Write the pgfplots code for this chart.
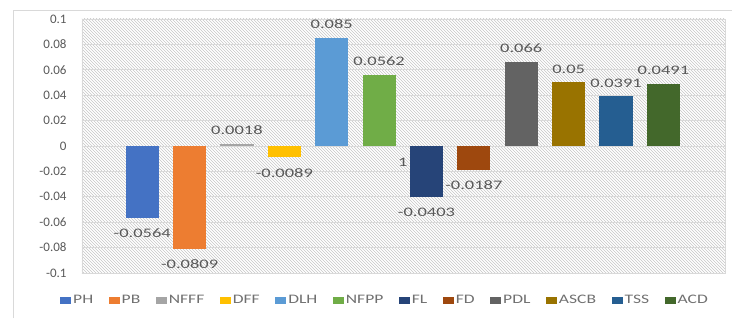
\documentclass[border=0pt]{standalone}
\usepackage{pgfplots}
\pgfplotsset{compat=1.18}
\usepackage{fontspec}
\setmainfont{Carlito}
\newfontfamily\lblfont{Carlito}[FakeStretch=1.42]
\newfontfamily\legfont{Carlito}[FakeStretch=1.35]
\usetikzlibrary{patterns}
\definecolor{cPH}{HTML}{4472C4}
\definecolor{cPB}{HTML}{ED7D31}
\definecolor{cNFFF}{HTML}{A5A5A5}
\definecolor{cDFF}{HTML}{FFC000}
\definecolor{cDLH}{HTML}{5B9BD5}
\definecolor{cNFPP}{HTML}{70AD47}
\definecolor{cFL}{HTML}{264478}
\definecolor{cFD}{HTML}{9E480E}
\definecolor{cPDL}{HTML}{636363}
\definecolor{cASCB}{HTML}{997300}
\definecolor{cTSS}{HTML}{255E91}
\definecolor{cACD}{HTML}{43682B}
\definecolor{labgray}{HTML}{595959}
\definecolor{leggray}{HTML}{707070}
\definecolor{linegray}{HTML}{D9D9D9}
\begin{document}
\begin{tikzpicture}
\begin{axis}[
  scale only axis, width=643pt, height=254pt,
  xmin=-1.27, xmax=12.3, ymin=-0.1, ymax=0.1,
  ytick={-0.1,-0.08,-0.06,-0.04,-0.02,0,0.02,0.04,0.06,0.08,0.1},
  yticklabels={-0.1,-0.08,-0.06,-0.04,-0.02,0,0.02,0.04,0.06,0.08,0.1},
  xtick=\empty,
  ymajorgrids, grid style={linegray, line width=0.8pt},
  axis line style={linegray},
  major tick length=0pt,
  yticklabel style={font=\fontsize{13}{13}\selectfont, text=labgray, xshift=-12pt},
  axis background/.style={pattern=north west lines, pattern color=gray!45},
  every axis plot/.append style={ybar, bar width=0.70, bar shift=0pt, draw=none},
  point meta=explicit symbolic,
  nodes near coords,
  nodes near coords style={font=\lblfont\fontsize{13}{13}\selectfont, text=labgray, inner ysep=0pt},
  pos/.style={nodes near coords style={anchor=south, yshift=9pt}},
  neg/.style={nodes near coords style={anchor=north, yshift=-11pt}},
  legend columns=12,
  legend style={draw=none, fill=none, at={(0,0)}, anchor=west, xshift=-22pt, yshift=-27pt,
    inner sep=0pt, font=\legfont\fontsize{13}{13}\selectfont, text=leggray,
    /tikz/every even column/.append style={column sep=13.5pt}},
  legend image code/.code={\fill[#1] (0pt,-3.5pt) rectangle (11pt,3.5pt);},
]
\addplot[fill=cPH, neg] coordinates {(0,-0.0564) [-0.0564]};
\addplot[fill=cPB, neg] coordinates {(1,-0.0809) [-0.0809]};
\addplot[fill=cNFFF, pos] coordinates {(2,0.0018) [0.0018]};
\addplot[fill=cDFF, neg] coordinates {(3,-0.0089) [-0.0089]};
\addplot[fill=cDLH, pos] coordinates {(4,0.085) [0.085]};
\addplot[fill=cNFPP, pos] coordinates {(5,0.0562) [0.0562]};
\addplot[fill=cFL, neg] coordinates {(6,-0.0403) [-0.0403]};
\addplot[fill=cFD, neg] coordinates {(7,-0.0187) [-0.0187]};
\addplot[fill=cPDL, pos] coordinates {(8,0.066) [0.066]};
\addplot[fill=cASCB, pos] coordinates {(9,0.05) [0.05]};
\addplot[fill=cTSS, pos] coordinates {(10,0.0391) [0.0391]};
\addplot[fill=cACD, pos] coordinates {(11,0.0491) [0.0491]};
\legend{PH,PB,NFFF,DFF,DLH,NFPP,FL,FD,PDL,ASCB,TSS,ACD}
\node[font=\lblfont\fontsize{13}{13}\selectfont, text=labgray] at (axis cs:5.5,-0.013) {1};
\end{axis}
\draw[linegray, line width=0.8pt] ([xshift=-69pt,yshift=-45pt]current axis.south west) -- ([xshift=-69pt,yshift=9pt]current axis.north west) -- ([xshift=7pt,yshift=9pt]current axis.north east);
\pgfresetboundingbox
\path ([xshift=-82pt,yshift=-45pt]current axis.south west) rectangle ([xshift=7pt,yshift=19pt]current axis.north east);
\end{tikzpicture}
\end{document}
